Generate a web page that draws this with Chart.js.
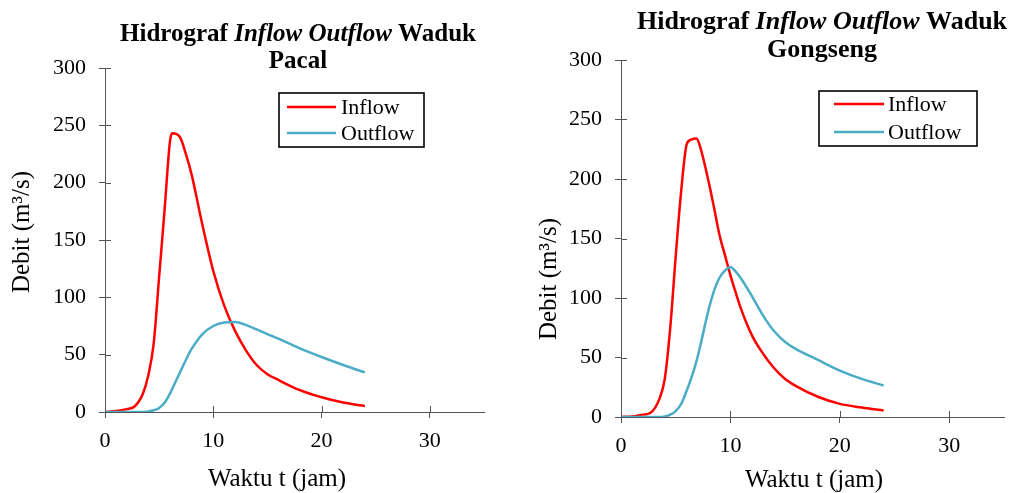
<!DOCTYPE html>
<html>
<head>
<meta charset="utf-8">
<script src="https://cdn.jsdelivr.net/npm/chart.js@4"></script>
<style>
  body { margin: 0; background: #fff; }
  .wrap { position: absolute; top: 0; width: 507px; height: 493px; }
</style>
</head>
<body>
<div class="wrap" style="left:0"><canvas id="pacal" width="507" height="493"></canvas></div>
<div class="wrap" style="left:507px"><canvas id="gongseng" width="507" height="493"></canvas></div>
<script>
// Waduk Pacal
const pacalTime    = [0, 1, 2, 2.7, 3.5, 4, 4.5, 5, 5.5, 6, 6.2, 6.9, 7.5, 8, 9, 10, 11, 12, 13, 14, 15, 16, 18, 20, 22, 24];
const pacalInflow  = [0, 0.8, 2.5, 4.6, 16, 32, 60, 118, 176, 236, 243, 240, 224, 207, 163, 123, 93, 71, 54, 41, 33, 28, 19, 12.8, 8.2, 5.2];
const pacalOutflow = [0, 0, 0, 0, 0, 0.5, 1.5, 3.5, 8, 16, 20, 34, 46, 55, 68, 75, 78, 78.5, 76, 72, 68, 64, 55.5, 48, 41, 34.5];

// Waduk Gongseng
const gongTime    = [0, 1, 2, 2.7, 3.5, 4, 4.5, 5, 5.5, 6, 6.4, 6.9, 7.2, 8, 8.5, 9, 9.5, 10, 10.5, 11, 12, 13, 14, 15, 16, 18, 20, 22, 24];
const gongInflow  = [0, 0.5, 2, 3.5, 15, 32, 75, 135, 190, 229, 233, 234, 228, 198, 176, 153, 136, 119, 104, 90, 68, 53, 41, 32, 26, 17, 11, 8, 5.5];
const gongOutflow = [0, 0, 0, 0, 0, 0.5, 2, 5, 11, 22, 32, 47, 58, 90, 106, 117, 123, 126, 122, 116, 101, 85, 72, 63, 57, 48, 39, 32, 26.5];

const xTicks = [0, 10, 20, 30];
const yTicks = [0, 50, 100, 150, 200, 250, 300];
const seriesNames = ["Inflow", "Outflow"];

const serif = "'Liberation Serif', 'Times New Roman', serif";
const axisColor = "#555";

// judul dua baris dengan bagian miring
const titlePlugin = {
  id: "judul",
  afterDraw(chart, args, o) {
    const ctx = chart.ctx;
    ctx.save();
    ctx.fillStyle = "#000";
    ctx.textBaseline = "alphabetic";
    const parts = [["Hidrograf ", "bold"], ["Inflow Outflow", "italic bold"], [" Waduk", "bold"]];
    let total = 0;
    parts.forEach(p => { ctx.font = p[1] + " " + o.size + "px " + serif; total += ctx.measureText(p[0]).width; });
    let x = o.cx - total / 2;
    ctx.textAlign = "left";
    parts.forEach(p => {
      ctx.font = p[1] + " " + o.size + "px " + serif;
      ctx.fillText(p[0], x, o.y1);
      x += ctx.measureText(p[0]).width;
    });
    ctx.font = "bold " + o.size + "px " + serif;
    ctx.textAlign = "center";
    ctx.fillText(o.name, o.cx, o.y2);

    // judul sumbu
    ctx.font = o.axisSize + "px " + serif;
    ctx.textBaseline = "middle";
    ctx.fillText("Waktu t (jam)", o.xTitle[0], o.xTitle[1]);
    ctx.translate(o.yTitle[0], o.yTitle[1]);
    ctx.rotate(-Math.PI / 2);
    ctx.fillText("Debit (m\u00B3/s)", 0, 0);
    ctx.restore();
  }
};

// tick yang menembus sumbu (bagian dalam)
const innerTicks = {
  id: "innerTicks",
  afterDraw(chart) {
    const ctx = chart.ctx, a = chart.chartArea;
    const sx = chart.scales.x, sy = chart.scales.y;
    ctx.save();
    ctx.strokeStyle = axisColor;
    ctx.lineWidth = 1;
    ctx.beginPath();
    sx.ticks.forEach(t => {
      const px = Math.round(sx.getPixelForValue(t.value)) + 0.5;
      ctx.moveTo(px, a.bottom); ctx.lineTo(px, a.bottom - 6);
    });
    sy.ticks.forEach(t => {
      const py = Math.round(sy.getPixelForValue(t.value)) + 0.5;
      ctx.moveTo(a.left, py); ctx.lineTo(a.left + 6, py);
    });
    ctx.stroke();
    ctx.restore();
  }
};

// legenda dalam kotak
const boxLegend = {
  id: "boxLegend",
  afterDraw(chart, args, o) {
    const ctx = chart.ctx;
    ctx.save();
    ctx.strokeStyle = "#000";
    ctx.lineWidth = 1.6;
    ctx.strokeRect(o.x, o.y, o.w, o.h);
    ctx.font = o.size + "px " + serif;
    ctx.fillStyle = "#000";
    ctx.textBaseline = "middle";
    ctx.textAlign = "left";
    chart.data.datasets.forEach((ds, i) => {
      const yy = o.rows[i];
      ctx.strokeStyle = ds.borderColor;
      ctx.lineWidth = 2.5;
      ctx.beginPath();
      ctx.moveTo(o.lineX[0], yy); ctx.lineTo(o.lineX[1], yy);
      ctx.stroke();
      ctx.fillText(ds.label, o.textX, yy + 1);
    });
    ctx.restore();
  }
};

function makeChart(id, time, inflow, outflow, lay) {
  const pts = arr => time.map((t, i) => ({ x: t, y: arr[i] }));
  return new Chart(document.getElementById(id), {
    type: "line",
    data: {
      datasets: [
        { label: seriesNames[0], data: pts(inflow), borderColor: "#FF0000", order: 1 },
        { label: seriesNames[1], data: pts(outflow), borderColor: "#4BACC6", order: 0 }
      ]
    },
    options: {
      responsive: false,
      animation: false,
      devicePixelRatio: 1,
      layout: { padding: { top: lay.top, right: lay.right, left: 0, bottom: 0 } },
      elements: {
        point: { radius: 0 },
        line: { borderWidth: 2.5, cubicInterpolationMode: "monotone", fill: false }
      },
      scales: {
        x: {
          type: "linear", min: 0, max: 35,
          afterFit: s => { s.height = lay.xh; },
          afterBuildTicks: s => { s.ticks = xTicks.map(v => ({ value: v })); },
          ticks: { font: { family: serif, size: 22 }, color: "#000", padding: lay.xpad, maxRotation: 0 },
          grid: { drawOnChartArea: false, tickLength: 6, color: axisColor },
          border: { color: axisColor, width: 1 }
        },
        y: {
          min: 0, max: 300,
          afterFit: s => { s.width = lay.yw; },
          afterBuildTicks: s => { s.ticks = yTicks.map(v => ({ value: v })); },
          ticks: { font: { family: serif, size: 22 }, color: "#000", padding: 13 },
          grid: { drawOnChartArea: false, tickLength: 6, color: axisColor },
          border: { color: axisColor, width: 1 }
        }
      },
      plugins: {
        legend: { display: false },
        tooltip: { enabled: false },
        judul: lay.title,
        boxLegend: lay.legend
      }
    },
    plugins: [titlePlugin, innerTicks, boxLegend]
  });
}

makeChart("pacal", pacalTime, pacalInflow, pacalOutflow, {
  top: 68, right: 23, xh: 81, yw: 105, xpad: 10,
  title: { size: 25, cx: 298, y1: 41, y2: 68, name: "Pacal", axisSize: 25, xTitle: [277, 479], yTitle: [22, 232] },
  legend: { x: 279, y: 93, w: 145, h: 54, size: 22, rows: [107, 133], lineX: [287, 336], textX: 341 }
});

makeChart("gongseng", gongTime, gongInflow, gongOutflow, {
  top: 60, right: 10, xh: 76, yw: 114, xpad: 10,
  title: { size: 26, cx: 315, y1: 29, y2: 57, name: "Gongseng", axisSize: 25, xTitle: [307, 480], yTitle: [42, 279] },
  legend: { x: 312, y: 91, w: 158, h: 55, size: 22, rows: [104, 132], lineX: [327, 377], textX: 381 }
});
</script>
</body>
</html>
